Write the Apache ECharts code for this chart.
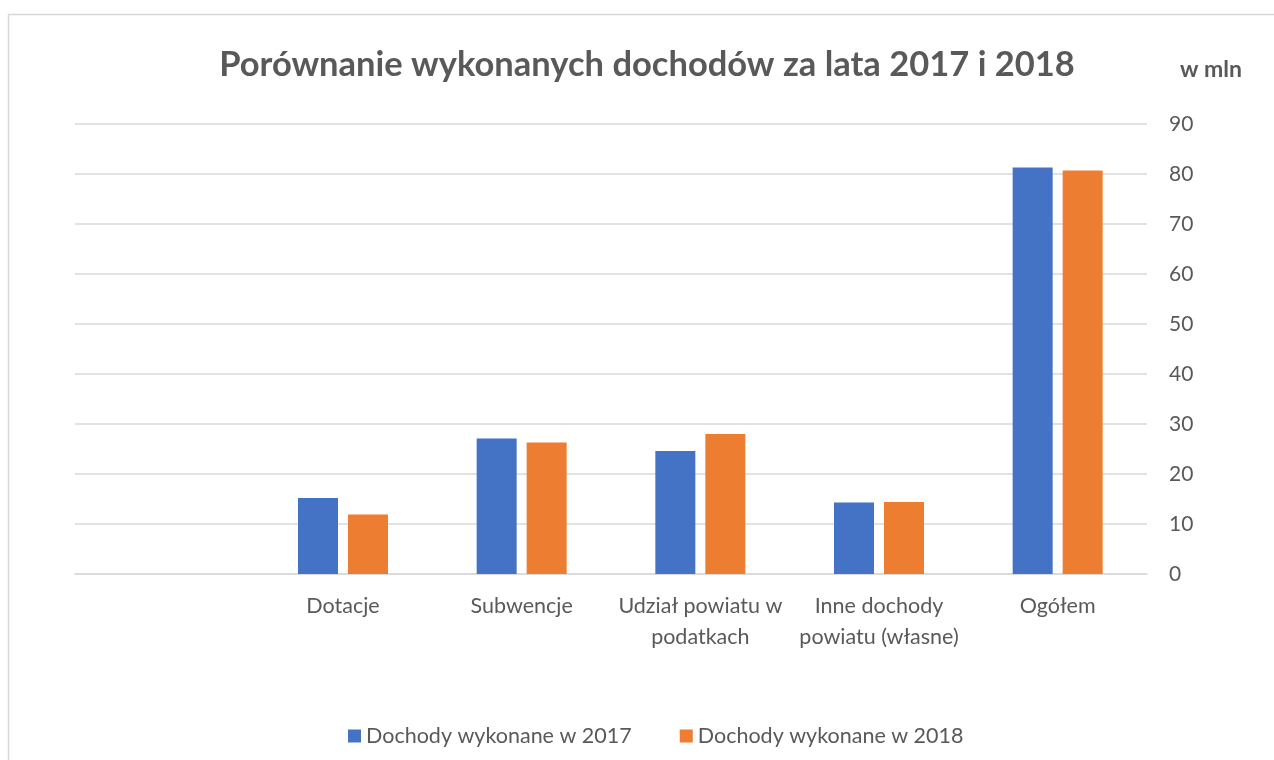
<!DOCTYPE html>
<html>
<head>
<meta charset="utf-8">
<script src="https://cdn.jsdelivr.net/npm/echarts@6/dist/echarts.min.js"></script>
<style>
  html, body { margin: 0; padding: 0; background: #fff; }
  #chart { width: 1274px; height: 760px; }
</style>
</head>
<body>
<div id="chart"></div>
<script>
// first category is empty in the original
var categories = ['', 'Dotacje', 'Subwencje', 'Udział powiatu w\npodatkach', 'Inne dochody\npowiatu (własne)', 'Ogółem'];
var dochody2017 = [null, 15.2, 27.1, 24.6, 14.3, 81.3];
var dochody2018 = [null, 11.9, 26.3, 28.0, 14.4, 80.7];
var seriesNames = ['Dochody wykonane w 2017', 'Dochody wykonane w 2018'];
var font = 'Lato, "Open Sans", sans-serif';

var myChart = echarts.init(document.getElementById('chart'));
myChart.setOption({
    animation: false,
    textStyle: { fontFamily: font },
    title: {
        text: 'Porównanie wykonanych dochodów za lata 2017 i 2018',
        left: 642,
        textAlign: 'center',
        top: 42,
        textStyle: { fontFamily: font, fontSize: 34.5, fontWeight: 'bold', color: '#595959' }
    },
    graphic: [
        {
            type: 'rect',
            shape: { x: 8.5, y: 14.5, width: 1300, height: 800 },
            style: { fill: 'none', stroke: '#d9d9d9', lineWidth: 1.5 },
            silent: true
        },
        {
            type: 'text',
            left: 1180,
            top: 58,
            style: { text: 'w mln', font: 'bold 23px ' + font, fill: '#595959' }
        }
    ],
    legend: {
        bottom: 8,
        left: 343,
        itemWidth: 13,
        itemHeight: 13,
        itemGap: 48,
        icon: 'rect',
        textStyle: { fontSize: 21.5, color: '#595959', fontFamily: font },
        data: seriesNames
    },
    grid: { left: 75, right: 127, top: 124, bottom: 186, containLabel: false },
    xAxis: {
        type: 'category',
        data: categories,
        axisLine: { show: true, lineStyle: { color: '#d9d9d9', width: 1.5 } },
        axisTick: { show: false },
        axisLabel: {
            interval: 0,
            margin: 17,
            fontSize: 21.5,
            lineHeight: 31,
            color: '#595959',
            fontFamily: font
        }
    },
    yAxis: {
        type: 'value',
        position: 'right',
        min: 0,
        max: 90,
        interval: 10,
        axisLine: { show: false },
        axisTick: { show: false },
        splitLine: { lineStyle: { color: '#d9d9d9', width: 1.5 } },
        axisLabel: { margin: 22, fontSize: 21, color: '#595959', fontFamily: font }
    },
    series: [
        {
            name: seriesNames[0],
            type: 'bar',
            data: dochody2017,
            barWidth: 40,
            barGap: '25%',
            itemStyle: { color: '#4472c4' }
        },
        {
            name: seriesNames[1],
            type: 'bar',
            data: dochody2018,
            barWidth: 40,
            itemStyle: { color: '#ed7d31' }
        }
    ]
});
</script>
</body>
</html>
